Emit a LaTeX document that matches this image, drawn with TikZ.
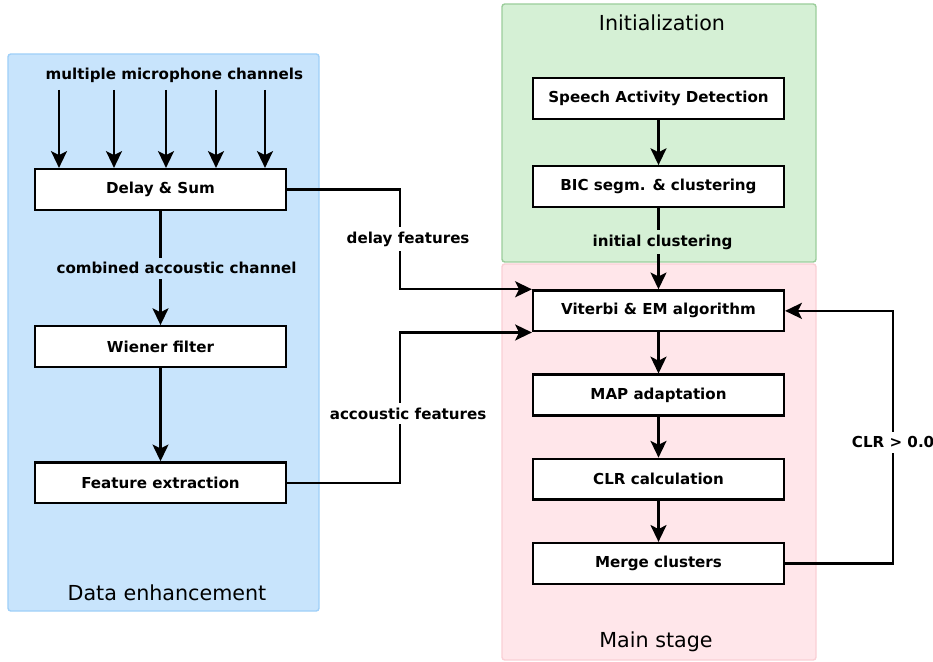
\documentclass[tikz,border=0pt]{standalone}
\usepackage{fontspec}
\setmainfont{DejaVu Sans}
\usepackage{tikz}
\usetikzlibrary{arrows.meta,positioning}
\definecolor{enhblue}{RGB}{200,228,252}
\definecolor{enhblueline}{RGB}{160,208,248}
\definecolor{initgreen}{RGB}{213,240,213}
\definecolor{initgreenline}{RGB}{155,205,155}
\definecolor{mainpink}{RGB}{255,230,234}
\definecolor{mainpinkline}{RGB}{250,208,214}

\begin{document}
\begin{tikzpicture}[node distance=1.025cm,
  every node/.style={font=\fontsize{10.75}{12}\selectfont\bfseries},
  stage/.style={draw, line width=1.7pt, fill=white, minimum width=6.27cm, minimum height=1.02cm},
  flow/.style={-{Stealth[length=4.2mm,width=4mm,inset=1mm]}, line width=1.6pt},
  region/.style={rounded corners=2pt, line width=1pt},
  title/.style={font=\fontsize{14.7}{16}\selectfont}]
\useasboundingbox (0,0) rectangle (23.325,-16.55);
% the three stages
\draw[region, fill=enhblue, draw=enhblueline] (0.2,-1.35) rectangle (7.975,-15.275);
\draw[region, fill=initgreen, draw=initgreenline] (12.55,-0.1) rectangle (20.4,-6.55);
\draw[region, fill=mainpink, draw=mainpinkline] (12.55,-6.6) rectangle (20.4,-16.5);
\node[title] (enhtitle) at (4.175,-14.825) {Data enhancement};
\node[title] (inittitle) at (16.55,-0.575) {Initialization};
\node[title] (maintitle) at (16.4,-16.05) {Main stage};
% front end
\node[stage] (delay) at (4.0125,-4.7375) {Delay \& Sum};
\node[stage, below=2.85cm of delay] (wiener) {Wiener filter};
\node[stage, below=2.325cm of wiener] (feat) {Feature extraction};
\node (miclabel) at (4.36,-1.875) {multiple microphone channels};
\foreach \x in {1.475,2.85,4.15,5.4,6.625} {
  \coordinate (mic) at (\x,-2.25);
  \draw[flow] (mic) -- (mic |- delay.north);
}
% clustering
\node[stage] (sad) at (16.4625,-2.4625) {Speech Activity Detection};
\node[stage, below=1.125cm of sad] (bic) {BIC segm. \& clustering};
\node[stage, below=2.025cm of bic] (vit) {Viterbi \& EM algorithm};
\node[stage, below=of vit] (map) {MAP adaptation};
\node[stage, below=of map] (clr) {CLR calculation};
\node[stage, below=of clr] (merge) {Merge clusters};
% connections
\draw[flow] (delay) -- node[fill=enhblue, xshift=0.4cm] {combined accoustic channel} (wiener);
\draw[flow] (wiener) -- (feat);
\draw[flow] (delay.east) -- ++(2.825,0) |- node[pos=0.25, fill=white, xshift=0.2cm] {delay features} (vit.north west);
\draw[flow] (feat.east) -- ++(2.825,0) |- node[pos=0.23, fill=white, xshift=0.2cm] {accoustic features} (vit.south west);
\draw[flow] (sad) -- (bic);
\draw[flow] (bic) -- node[pos=0.42, fill=initgreen, xshift=0.1cm] {initial clustering} (vit);
\draw[flow] (vit) -- (map);
\draw[flow] (map) -- (clr);
\draw[flow] (clr) -- (merge);
\draw[flow] (merge.east) -- ++(2.7,0) |- node[pos=0.24, fill=white] {CLR > 0.0} (vit.east);
\end{tikzpicture}
\end{document}
